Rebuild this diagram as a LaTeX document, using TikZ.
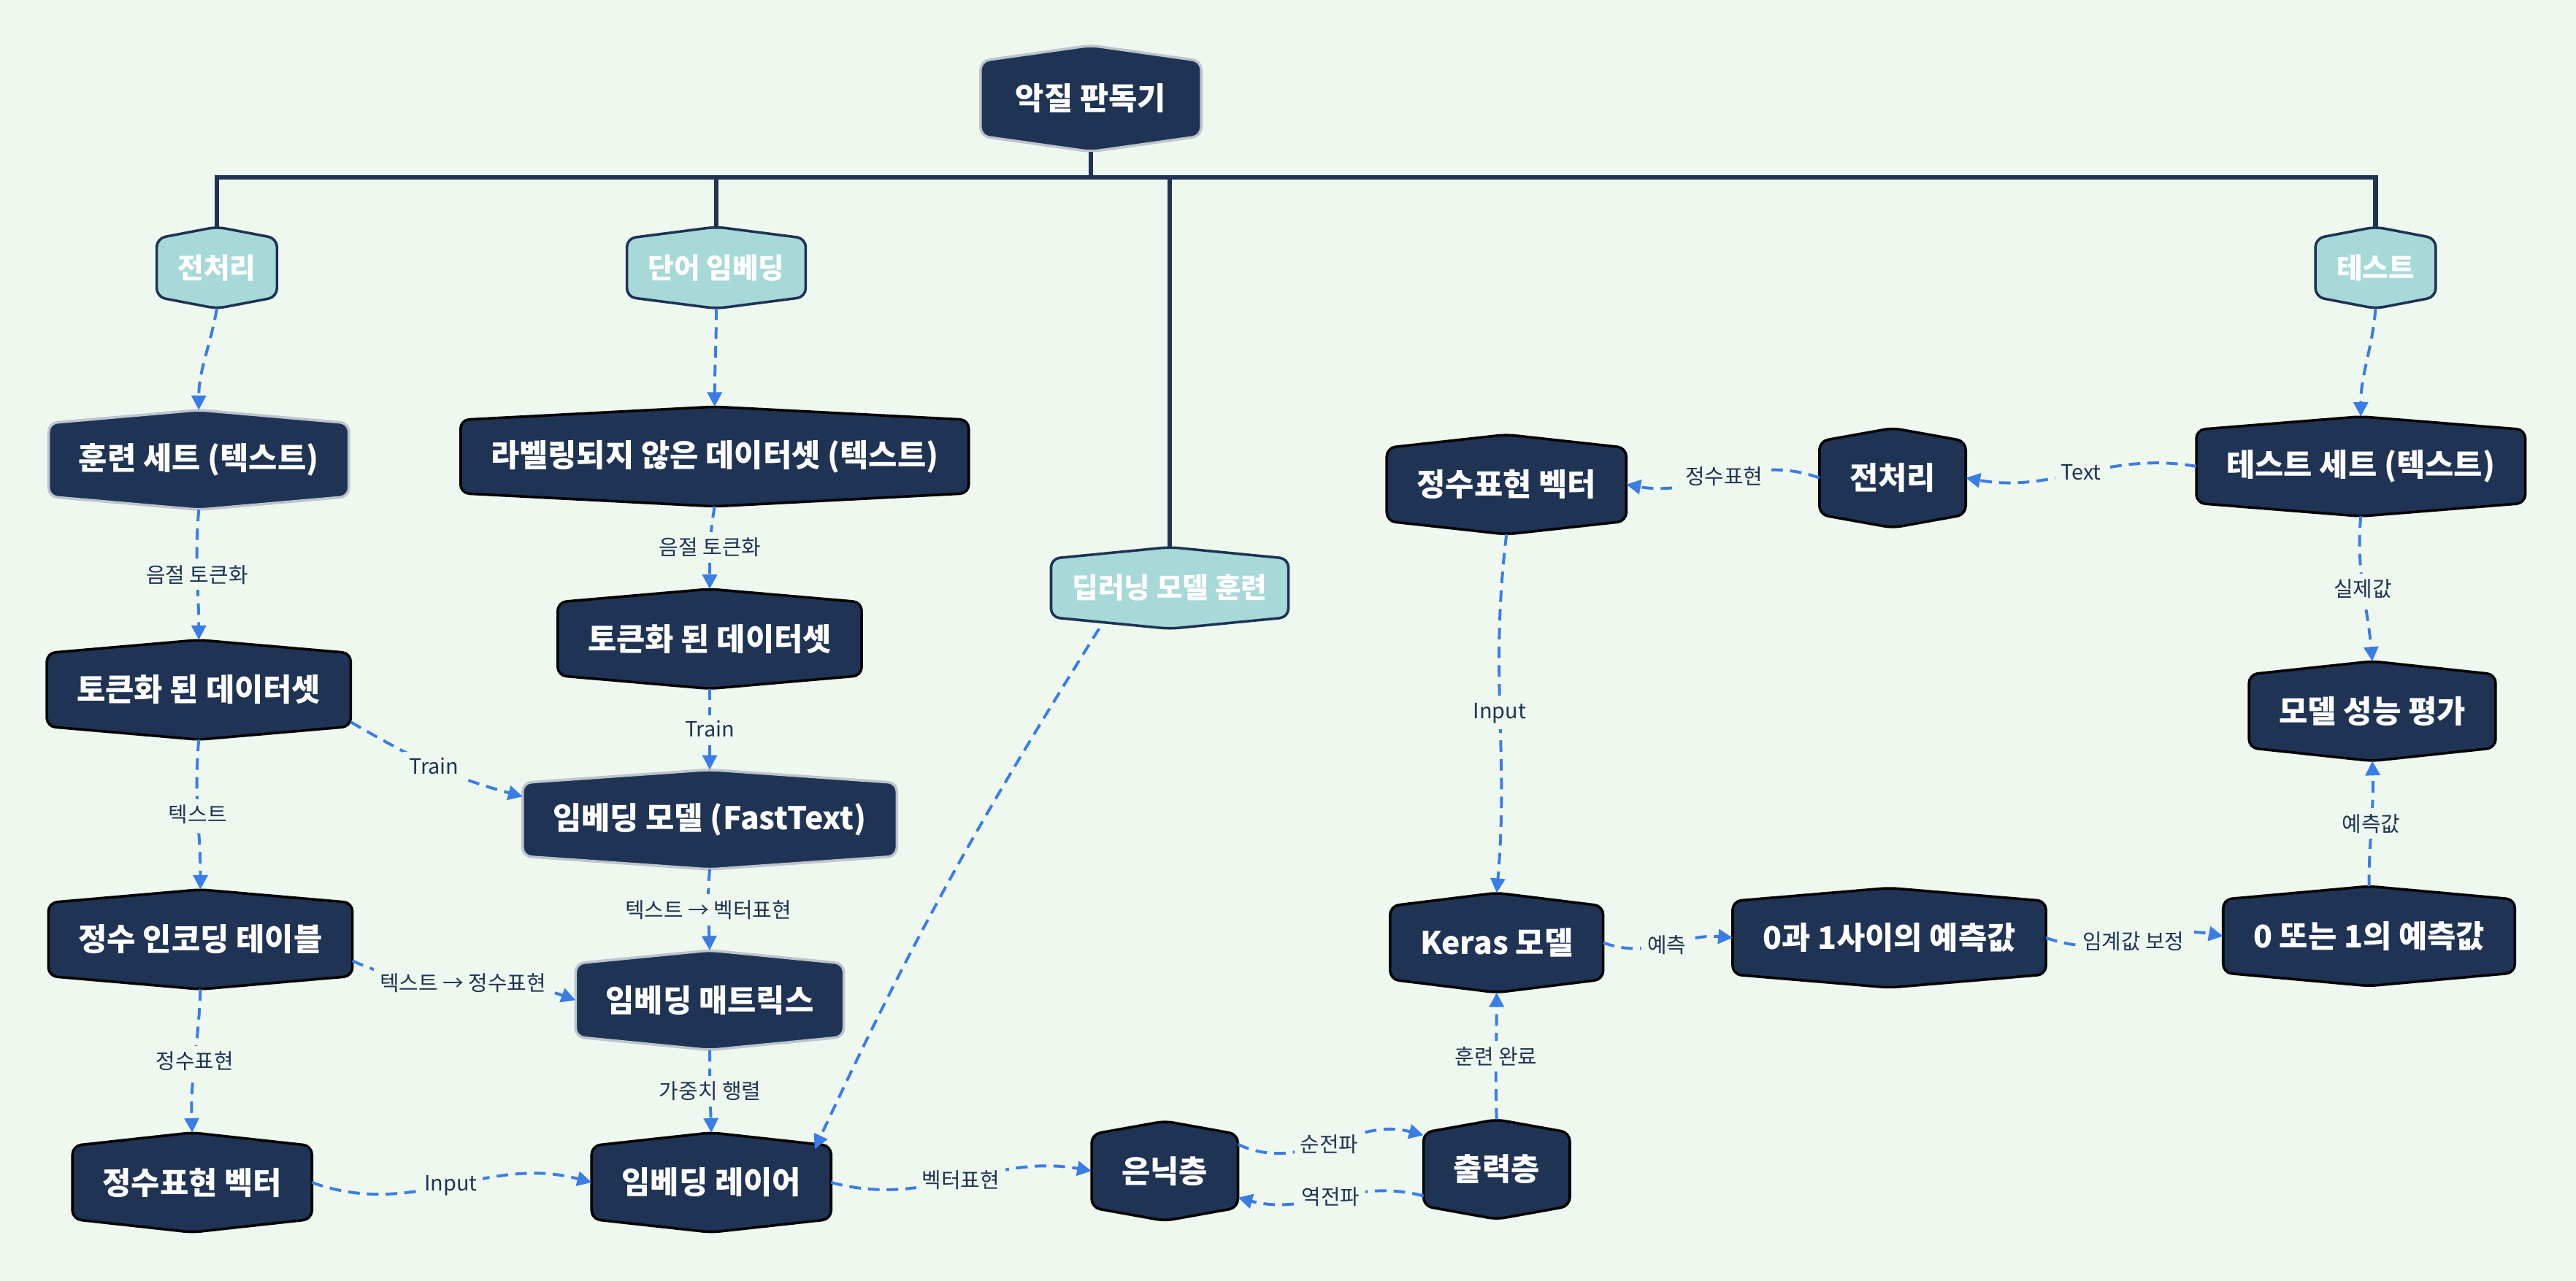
\documentclass[tikz,border=0pt]{standalone}
\usepackage{fontspec}
\setmainfont{Noto Sans CJK KR}
\usetikzlibrary{arrows.meta}

\definecolor{paper}{HTML}{EEF8EE}
\definecolor{navy}{HTML}{1F3354}
\definecolor{mint}{HTML}{A8D9D9}
\definecolor{flowblue}{HTML}{3B7DE6}
\definecolor{rim}{HTML}{BCC4CC}

\pgfdeclarelayer{paperlayer}
\pgfdeclarelayer{hexlayer}
\pgfsetlayers{paperlayer,hexlayer,main}

% hexagon round a node: #1 node, #2 depth of the top and bottom points
\newcommand{\hexpath}[2]{(#1.east) -- ([yshift=#2]#1.south east) -- (#1.south) -- ([yshift=#2]#1.south west) -- ([yshift=-#2]#1.north west) -- (#1.north) -- ([yshift=-#2]#1.north east) -- cycle}

\tikzset{
  box/.style={rectangle, text=white, font=\bfseries\fontsize{10.8}{12}\selectfont, inner xsep=0.36cm, inner ysep=0pt, minimum height=1.2cm},
  topic/.style={box, font=\bfseries\fontsize{9.8}{11}\selectfont, inner xsep=0.25cm, minimum height=0.98cm},
  darkhex/.style={fill=navy, draw=black, line width=0.9pt, rounded corners=3pt},
  softhex/.style={darkhex, draw=rim},
  topichex/.style={fill=mint, draw=navy, line width=0.9pt, rounded corners=3pt},
  trunk/.style={navy, line width=1.6pt},
  flow/.style={flowblue, line width=1pt, dash pattern=on 4pt off 2.5pt, -{Triangle[length=5pt,width=5pt]}},
  tag/.style={fill=paper, text=navy, font=\fontsize{7.3}{8}\selectfont, inner sep=2pt}
}

\begin{document}
\begin{tikzpicture}[x=0.02cm, y=-0.02cm]
  \useasboundingbox (0,0) rectangle (1568,780);
  \begin{pgfonlayer}{paperlayer}
    \fill[paper] (0,0) rectangle (1568,780);
  \end{pgfonlayer}

  % root and the four branches
  \node[box, minimum height=1.28cm, inner xsep=0.42cm, font=\bfseries\fontsize{10.8}{12}\selectfont] (root) at (664,60) {악질 판독기};
  \node[topic] (prepT) at (132,163) {전처리};
  \node[topic] (embT) at (436,163) {단어 임베딩};
  \node[topic] (deepT) at (712,358) {딥러닝 모델 훈련};
  \node[topic] (testT) at (1446,163) {테스트};

  % left column
  \node[box] (trainSet) at (121,280) {훈련 세트 (텍스트)};
  \node[box] (tokLeft) at (121,420) {토큰화 된 데이터셋};
  \node[box] (intTable) at (122,572) {정수 인코딩 테이블};
  \node[box] (intVecLeft) at (117,720) {정수표현 벡터};

  % embedding column
  \node[box] (rawSet) at (435,278) {라벨링되지 않은 데이터셋 (텍스트)};
  \node[box] (tokMid) at (432,389) {토큰화 된 데이터셋};
  \node[box] (ftModel) at (432,499) {임베딩 모델 (FastText)};
  \node[box] (embMatrix) at (432,609) {임베딩 매트릭스};
  \node[box] (embLayer) at (433,720) {임베딩 레이어};

  % network
  \node[box] (hidden) at (709,713) {은닉층};
  \node[box] (output) at (911,712) {출력층};
  \node[box] (keras) at (911,574) {Keras 모델};
  \node[box] (intVecRight) at (917,295) {정수표현 벡터};
  \node[box] (prepRight) at (1152,291) {전처리};

  % test side
  \node[box] (testSet) at (1437,284) {테스트 세트 (텍스트)};
  \node[box] (evalNode) at (1444,433) {모델 성능 평가};
  \node[box] (probVal) at (1150,571) {0과 1사이의 예측값};
  \node[box] (binVal) at (1442,570) {0 또는 1의 예측값};

  \begin{pgfonlayer}{hexlayer}
    \draw[softhex] \hexpath{root}{0.19cm};
    \foreach \n in {trainSet,ftModel,embMatrix}
      \draw[softhex] \hexpath{\n}{0.16cm};
    \foreach \n in {tokLeft,intTable,intVecLeft,rawSet,tokMid,embLayer,hidden,output,keras,intVecRight,prepRight,testSet,evalNode,probVal,binVal}
      \draw[darkhex] \hexpath{\n}{0.16cm};
    \foreach \n in {prepT,embT,deepT,testT}
      \draw[topichex] \hexpath{\n}{0.14cm};
  \end{pgfonlayer}

  % tree
  \coordinate (bar) at (664,108);
  \draw[trunk] (root.south) -- (bar);
  \draw[trunk] (prepT.north) |- (bar) -| (testT.north);
  \draw[trunk] (embT.north) -- (embT.north |- bar);
  \draw[trunk] (deepT.north) -- (deepT.north |- bar);

  % flows
  \draw[flow] (prepT.south) to[out=-100,in=90] (trainSet.north);
  \draw[flow] (trainSet.south) to[out=-95,in=90] node[tag]{음절 토큰화} (tokLeft.north);
  \draw[flow] (tokLeft.south) to[out=-95,in=90] node[tag]{텍스트} (intTable.north);
  \draw[flow] (tokLeft.-12) to[out=-30,in=165] node[tag]{Train} (ftModel.173);
  \draw[flow] (intTable.south) to[out=-92,in=92] node[tag]{정수표현} (intVecLeft.north);
  \draw[flow] (intTable.-8) to[out=-25,in=160] node[tag]{텍스트 → 정수표현} (embMatrix.west);
  \draw[flow] (intVecLeft.east) to[out=-20,in=165] node[tag]{Input} (embLayer.west);

  \draw[flow] (embT.south) to[out=-90,in=90] (rawSet.north);
  \draw[flow] (rawSet.south) to[out=-100,in=90] node[tag]{음절 토큰화} (tokMid.north);
  \draw[flow] (tokMid.south) to node[tag]{Train} (ftModel.north);
  \draw[flow] (ftModel.south) to[out=-95,in=92] node[tag]{텍스트 → 벡터표현} (embMatrix.north);
  \draw[flow] (embMatrix.south) to[out=-90,in=92] node[tag]{가중치 행렬} (embLayer.north);
  \draw[flow] (deepT.-150) to[out=-122,in=65] ([xshift=-0.2cm,yshift=-0.2cm]embLayer.north east);

  \draw[flow] (embLayer.east) to[out=-15,in=170] node[tag]{벡터표현} (hidden.west);
  \draw[flow] (hidden.20) to[out=-25,in=165] node[tag]{순전파} (output.155);
  \draw[flow] (output.-160) to[out=165,in=-15] node[tag]{역전파} (hidden.-20);
  \draw[flow] (output.north) to[out=92,in=-90] node[tag]{훈련 완료} (keras.south);
  \draw[flow] (intVecRight.south) to[out=-97,in=85] node[tag]{Input} (keras.north);
  \draw[flow] (prepRight.west) to[out=160,in=-10] node[tag]{정수표현} (intVecRight.east);
  \draw[flow] (testSet.west) to[out=170,in=-10] node[tag]{Text} (prepRight.east);

  \draw[flow] (testT.south) to[out=-95,in=90] (testSet.north);
  \draw[flow] (testSet.south) to[out=-95,in=95] node[tag]{실제값} (evalNode.north);
  \draw[flow] (binVal.north) to[out=90,in=-88] node[tag]{예측값} (evalNode.south);
  \draw[flow] (keras.east) to[out=-20,in=175] node[tag]{예측} (probVal.west);
  \draw[flow] (probVal.east) to[out=-20,in=170] node[tag]{임계값 보정} (binVal.west);
\end{tikzpicture}
\end{document}
